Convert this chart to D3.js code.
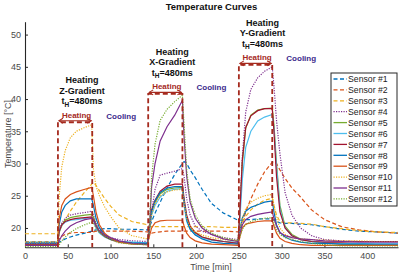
<!DOCTYPE html>
<html>
<head>
<meta charset="utf-8">
<script src="https://cdn.jsdelivr.net/npm/d3@7"></script>
<style>
  body { margin: 0; background: #fff; }
  svg { font-family: "Liberation Sans", Arial, Helvetica, sans-serif; }
</style>
</head>
<body>
<svg width="400" height="273"></svg>
<script>
// time samples [min], shared by all sensors
var times = [0, 38, 40, 43, 47, 53, 60, 70, 78, 80, 83, 87, 93, 100, 110, 125, 143,
  145, 148, 152, 158, 166, 175, 184, 186, 189, 193, 199, 207, 218, 232, 249,
  251, 254, 258, 264, 272, 280, 289, 291, 294, 298, 304, 312, 322, 335, 350, 370, 390, 410, 436];

// temperature per sensor [°C]
var sensor1 = [17.7, 17.7, 17.8, 18, 18.3, 18.6, 18.9, 19.2, 19.5, 19.6, 19.7, 19.8, 19.9, 19.9, 19.8, 19.8, 19.7,
  20, 21, 22.3, 24, 26.2, 28.3, 30, 30.3, 30, 29, 27.8, 26, 23.8, 22.3, 21.2,
  21.2, 21.2, 21.3, 21.3, 21.4, 21.4, 21.4, 21.2, 21, 20.8, 20.7, 20.7, 20.6, 20.5, 20.2, 19.8, 19.5, 19.4, 19.2];
var sensor2 = [17.9, 17.9, 18.3, 18.7, 19, 19.2, 19.3, 19.3, 19.3, 19.4, 19.5, 19.5, 19.5, 19.5, 19.5, 19.5, 19.4,
  19.3, 19.2, 19.3, 19.4, 19.5, 19.5, 19.5, 19.5, 19.5, 19.5, 19.5, 19.5, 19.5, 19.5, 19.4,
  19.5, 20.5, 22.5, 24.5, 26.8, 28.7, 30.2, 30.3, 30, 29, 27.7, 26.2, 24.8, 22.8, 21.3, 20.2, 19.7, 19.4, 19.2];
var sensor3 = [19.1, 19.1, 19.5, 20.3, 21.3, 22.6, 24, 25.6, 26.8, 27.1, 26.6, 25.8, 24.6, 23.4, 22, 21, 20.5,
  20.3, 20.2, 20.2, 20.2, 20.2, 20.2, 20.2, 20.2, 20.2, 20.2, 20.2, 20.2, 20.2, 20.1, 20.1,
  20.2, 20.8, 21.8, 22.8, 23.7, 24.3, 24.6, 23.5, 22, 21, 20.8, 20.8, 20.7, 20.6, 20.2, 19.9, 19.6, 19.4, 19.3];
var sensor4 = [17.6, 17.6, 19.5, 20.8, 21.5, 22, 22.2, 22.4, 22.6, 22, 20.8, 19.8, 19, 18.5, 18.2, 18, 17.9,
  19, 22.5, 26, 28.2, 28.5, 28.8, 29.2, 28, 24.5, 22, 20.3, 19.5, 19, 18.5, 18.2,
  22, 31, 38, 41.5, 43.3, 44.3, 45, 42, 36.7, 31.5, 25.5, 22, 20, 18.8, 18.2, 18, 17.9, 17.9, 17.9];
var sensor5 = [17.4, 17.4, 19.3, 20.5, 21.2, 21.6, 21.8, 22, 22.1, 21.7, 20.5, 19.5, 18.8, 18.3, 17.9, 17.7, 17.6,
  19, 22.5, 24, 25.3, 26, 26.2, 26.3, 24, 21.5, 20, 19.2, 18.6, 18.2, 17.9, 17.7,
  22, 30, 35.5, 37.5, 38.3, 38.5, 38.6, 36, 30, 23.5, 20.3, 19, 18.3, 17.9, 17.7, 17.5, 17.4, 17.3, 17.3];
var sensor6 = [17.8, 17.8, 19.5, 20.4, 20.9, 21.2, 21.3, 21.5, 21.6, 21.2, 20, 19.2, 18.6, 18.2, 17.9, 17.8, 17.7,
  19.5, 22, 23.5, 24.8, 25.7, 26, 26.1, 23.5, 21, 19.8, 19, 18.5, 18.1, 17.9, 17.7,
  21, 27.5, 32.5, 35, 36.6, 37.2, 37.6, 35.5, 29.5, 23, 20, 18.8, 18.2, 17.9, 17.7, 17.6, 17.6, 17.5, 17.5];
var sensor7 = [17.5, 17.5, 19.5, 20.5, 21, 21.3, 21.5, 21.6, 21.7, 21.3, 20.3, 19.4, 18.7, 18.2, 17.8, 17.6, 17.5,
  20, 22.8, 24.3, 25.7, 26.5, 26.8, 26.8, 24.5, 22, 20.3, 19.3, 18.6, 18.2, 17.9, 17.6,
  22, 30.5, 35.6, 37.4, 38.2, 38.5, 38.5, 35, 28, 22.5, 20, 18.8, 18.2, 17.9, 17.8, 17.8, 17.9, 17.9, 17.9];
var sensor8 = [17.7, 17.7, 20.5, 22.5, 23.5, 24.2, 24.5, 24.5, 24.5, 23.5, 21.5, 20, 19, 18.3, 17.9, 17.7, 17.6,
  19.5, 22.5, 24.2, 25.5, 26.2, 26.4, 26.4, 24, 21.3, 19.8, 18.9, 18.3, 17.8, 17.6, 17.5,
  19.5, 21.5, 22.6, 23.2, 23.6, 24, 24.2, 22.5, 20.5, 19.3, 18.6, 18.1, 17.8, 17.6, 17.6, 17.5, 17.5, 17.5, 17.5];
var sensor9 = [17.3, 17.3, 21.5, 23.5, 24.5, 25.2, 25.6, 26, 26.3, 25, 22.5, 20.5, 19.2, 18.4, 17.8, 17.5, 17.4,
  18.5, 20, 20.8, 21.1, 21.2, 21.2, 21.2, 20.3, 19.2, 18.5, 18, 17.7, 17.5, 17.4, 17.3,
  18.5, 20, 20.6, 20.8, 21, 21.1, 21.1, 20.3, 19.2, 18.4, 17.9, 17.6, 17.4, 17.3, 17.3, 17.3, 17.3, 17.3, 17.3];
var sensor10 = [17.8, 17.8, 25, 29.5, 32, 34, 35, 35.6, 36, 29, 26.5, 25, 23.3, 21.8, 20, 18.8, 18.3,
  19.5, 22, 23.8, 25, 25.6, 25.9, 26, 23.8, 21.5, 20.2, 19.4, 18.9, 18.5, 18.2, 18,
  19.5, 21.5, 23, 24, 24.6, 25, 25.2, 23.5, 21.5, 20, 19, 18.5, 18.3, 18.2, 18.1, 18, 18, 17.9, 17.9];
var sensor11 = [17.3, 17.3, 18, 18.8, 19.5, 20.3, 20.8, 21.3, 21.5, 21.3, 20.3, 19.5, 18.9, 18.5, 18, 17.6, 17.4,
  19, 26.4, 30, 33.5, 35.7, 37.5, 39.8, 34, 28, 24, 21.5, 20, 19, 18.3, 17.9,
  19, 20.5, 21.3, 21.8, 22.1, 22.3, 22.5, 21.5, 20.3, 19.3, 18.8, 18.5, 18.3, 18.2, 18, 17.9, 17.8, 17.8, 17.8];
var sensor12 = [17.1, 17.1, 17.4, 18, 18.6, 19.3, 19.9, 20.5, 20.9, 20.7, 20, 19.3, 18.7, 18.2, 17.7, 17.5, 17.4,
  18.6, 27.9, 33, 36.7, 38.4, 39.6, 40.6, 36, 29, 24.5, 22, 20.3, 19.2, 18.5, 18,
  18.5, 19.8, 20.5, 21, 21.3, 21.5, 21.6, 20.8, 19.8, 19, 18.5, 18.2, 17.9, 17.6, 17.4, 17.2, 17.2, 17.2, 17.2];

var sensorNames = ["Sensor #1", "Sensor #2", "Sensor #3", "Sensor #4", "Sensor #5", "Sensor #6",
  "Sensor #7", "Sensor #8", "Sensor #9", "Sensor #10", "Sensor #11", "Sensor #12"];
var sensorValues = [sensor1, sensor2, sensor3, sensor4, sensor5, sensor6,
  sensor7, sensor8, sensor9, sensor10, sensor11, sensor12];

// heating windows [min] and box heights [°C]
var heatStart = [38.5, 144, 250];
var heatEnd = [78.6, 184, 289];
var heatTop = [36.4, 40.8, 45.3];
var gradientNames = ["Z-Gradient", "X-Gradient", "Y-Gradient"];

var xTicks = [0, 50, 100, 150, 200, 250, 300, 350, 400];
var yTicks = [20, 25, 30, 35, 40, 45, 50];

// line styles (MATLAB default colour order)
var colors = ["#0072BD", "#D95319", "#EDB120", "#7E2F8E", "#77AC30", "#4DBEEE", "#A2142F"];
var dashes = ["4,2.5", "4,2.5", "4,2.5", "1.2,1.3", null, null, null, null, null, "1.2,1.3", null, "1.2,1.3"];

var svg = d3.select("svg");
var margin = { left: 25, right: 2, top: 21.7, bottom: 25.7 };
var width = 400, height = 273;

var xScale = d3.scaleLinear().domain([0, 436]).range([margin.left, width - margin.right]);
var yScale = d3.scaleLinear().domain([17, 52]).range([height - margin.bottom, margin.top]);

svg.append("defs").append("clipPath").attr("id", "plot-clip")
  .append("rect")
  .attr("x", margin.left).attr("y", margin.top)
  .attr("width", width - margin.right - margin.left)
  .attr("height", height - margin.bottom - margin.top);

//Title
svg.append("text")
  .attr("x", 211.5).attr("y", 9.5)
  .attr("text-anchor", "middle")
  .style("font-size", "9.5px").style("font-weight", "bold").style("fill", "#111")
  .text("Temperature Curves");

//Axes
var xAxis = d3.axisBottom(xScale).tickValues(xTicks).tickSizeInner(-3).tickSizeOuter(0).tickPadding(5);
var yAxis = d3.axisLeft(yScale).tickValues(yTicks).tickSizeInner(-3).tickSizeOuter(0).tickPadding(4);

var gx = svg.append("g")
  .attr("transform", `translate(0, ${height - margin.bottom})`)
  .call(xAxis);
var gy = svg.append("g")
  .attr("transform", `translate(${margin.left}, 0)`)
  .call(yAxis);

[gx, gy].forEach(function (g) {
  g.select(".domain").attr("stroke", "#262626").attr("stroke-width", 1.1);
  g.selectAll(".tick line").attr("stroke", "#262626");
  g.selectAll(".tick text")
    .style("font-size", "9px")
    .style("font-family", "Liberation Sans, Arial, sans-serif")
    .attr("fill", "#4a4a4a");
});

//Axis labels
svg.append("text")
  .attr("x", 211).attr("y", 270)
  .attr("text-anchor", "middle")
  .style("font-size", "9px").attr("fill", "#4a4a4a")
  .text("Time [min]");

svg.append("text")
  .attr("transform", "rotate(-90)")
  .attr("x", -134).attr("y", 10.5)
  .attr("text-anchor", "middle")
  .style("font-size", "9px").attr("fill", "#4a4a4a")
  .text("Temperature [°C]");

//Sensor curves
var lineGen = d3.line()
  .x(function (d) { return xScale(d.t); })
  .y(function (d) { return yScale(d.v); });

var plot = svg.append("g").attr("clip-path", "url(#plot-clip)");

sensorValues.forEach(function (vals, i) {
  var pts = times.map(function (t, j) { return { t: t, v: vals[j] }; });
  plot.append("path")
    .datum(pts)
    .attr("class", "sensor-line")
    .attr("fill", "none")
    .attr("stroke", colors[i % 7])
    .attr("stroke-width", 1.2)
    .attr("stroke-dasharray", dashes[i])
    .attr("d", lineGen);
});

//Heating boxes, arrows and labels
var boxColor = "#A52A1E";
var coolColor = "#3B2A8C";

heatStart.forEach(function (s, i) {
  var x0 = xScale(s), x1 = xScale(heatEnd[i]);
  var yTop = yScale(heatTop[i]), yBot = yScale(17);

  svg.append("path")
    .attr("d", `M${x0},${yBot} L${x0},${yTop} L${x1},${yTop} L${x1},${yBot}`)
    .attr("fill", "none")
    .attr("stroke", boxColor)
    .attr("stroke-width", 1.8)
    .attr("stroke-dasharray", "5,3");

  // double arrow
  var ay = yTop - 1.5;
  svg.append("line")
    .attr("x1", x0 + 1).attr("x2", x1 - 1)
    .attr("y1", ay).attr("y2", ay)
    .attr("stroke", boxColor).attr("stroke-width", 1.2);
  svg.append("path")
    .attr("d", `M${x0 + 5},${ay - 2.5} L${x0 + 1},${ay} L${x0 + 5},${ay + 2.5}`)
    .attr("fill", "none").attr("stroke", boxColor).attr("stroke-width", 1.1);
  svg.append("path")
    .attr("d", `M${x1 - 5},${ay - 2.5} L${x1 - 1},${ay} L${x1 - 5},${ay + 2.5}`)
    .attr("fill", "none").attr("stroke", boxColor).attr("stroke-width", 1.1);

  var cx = (x0 + x1) / 2;

  // red "Heating" label above arrow
  svg.append("text")
    .attr("x", cx + 1.5).attr("y", yTop - 4.5)
    .attr("text-anchor", "middle")
    .style("font-size", "8px").style("font-weight", "bold")
    .attr("fill", boxColor)
    .text("Heating");

  // "Cooling" label to the right
  svg.append("text")
    .attr("x", x1 + 29).attr("y", yTop - 3.5)
    .attr("text-anchor", "middle")
    .style("font-size", "8px").style("font-weight", "bold")
    .attr("fill", coolColor)
    .text("Cooling");

  // block title
  var tx = cx + 7;
  var block = svg.append("g").style("font-size", "9px").style("font-weight", "bold").attr("fill", "#111");
  block.append("text").attr("x", tx).attr("y", yTop - 39).attr("text-anchor", "middle").text("Heating");
  block.append("text").attr("x", tx).attr("y", yTop - 28.5).attr("text-anchor", "middle").text(gradientNames[i]);
  var th = block.append("text").attr("x", tx).attr("y", yTop - 18).attr("text-anchor", "middle");
  th.append("tspan").text("t");
  th.append("tspan").attr("dy", 2.5).style("font-size", "6.5px").text("H");
  th.append("tspan").attr("dy", -2.5).text("=480ms");
});

//Legend
var legend = svg.append("g").attr("class", "legend");
legend.append("rect")
  .attr("x", 331).attr("y", 73)
  .attr("width", 66).attr("height", 133)
  .attr("fill", "#fff")
  .attr("stroke", "#262626").attr("stroke-width", 1);

legend.selectAll(".legend-line")
  .data(sensorNames)
  .join("line")
  .attr("class", "legend-line")
  .attr("x1", 333.5).attr("x2", 347)
  .attr("y1", function (d, i) { return 79 + i * 10.9; })
  .attr("y2", function (d, i) { return 79 + i * 10.9; })
  .attr("stroke", function (d, i) { return colors[i % 7]; })
  .attr("stroke-width", 1.3)
  .attr("stroke-dasharray", function (d, i) { return dashes[i]; });

legend.selectAll(".legend-label")
  .data(sensorNames)
  .join("text")
  .attr("class", "legend-label")
  .attr("x", 348)
  .attr("y", function (d, i) { return 82.2 + i * 10.9; })
  .style("font-size", "8.7px")
  .attr("fill", "#222")
  .text(function (d) { return d; });
</script>
</body>
</html>
